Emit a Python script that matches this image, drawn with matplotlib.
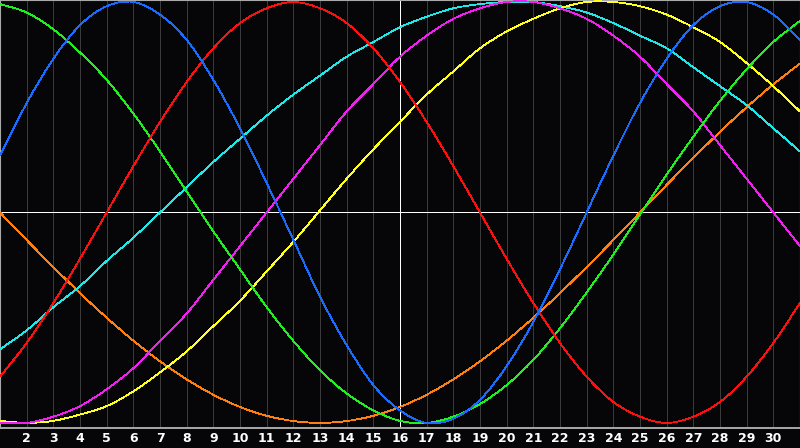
import matplotlib

matplotlib.use("Agg")

import matplotlib.pyplot as plt
from matplotlib.patches import PathPatch
from matplotlib.path import Path

BACKGROUND = "#060609"
GRID_COLOR = "#3a3a3a"
FRAME_COLOR = "#a8a8a8"
MARKER_DAY = 16

days = list(range(1, 32))
tick_days = list(range(2, 31))

physical = [0.27, 0.52, 0.73, 0.89, 0.98, 1.00, 0.94, 0.82, 0.63, 0.40, 0.14, -0.13, -0.40, -0.63, -0.82, -0.94,
            -1.00, -0.98, -0.89, -0.73, -0.52, -0.27, -0.00, 0.27, 0.52, 0.73, 0.89, 0.98, 1.00, 0.94, 0.82]
emotional = [-0.78, -0.62, -0.43, -0.22, 0.00, 0.22, 0.43, 0.62, 0.78, 0.90, 0.97, 1.00, 0.97, 0.90, 0.78, 0.62,
             0.43, 0.22, 0.00, -0.22, -0.43, -0.62, -0.78, -0.90, -0.97, -1.00, -0.97, -0.90, -0.78, -0.62, -0.43]
intellectual = [0.99, 0.95, 0.87, 0.76, 0.63, 0.47, 0.29, 0.10, -0.09, -0.27, -0.45, -0.61, -0.75, -0.86, -0.94, -0.99,
                -1.00, -0.97, -0.91, -0.82, -0.70, -0.55, -0.38, -0.20, -0.01, 0.18, 0.36, 0.53, 0.68, 0.81, 0.91]
intuitive = [-1.00, -1.00, -0.97, -0.92, -0.84, -0.74, -0.61, -0.48, -0.32, -0.16, 0.00, 0.16, 0.32, 0.48, 0.61, 0.74,
             0.84, 0.92, 0.97, 1.00, 1.00, 0.97, 0.92, 0.84, 0.74, 0.61, 0.48, 0.32, 0.16, 0.00, -0.16]
aesthetic = [-0.99, -1.00, -0.99, -0.96, -0.92, -0.85, -0.76, -0.66, -0.54, -0.42, -0.28, -0.14, 0.01, 0.16, 0.30, 0.43,
             0.56, 0.67, 0.78, 0.86, 0.92, 0.97, 1.00, 1.00, 0.98, 0.94, 0.88, 0.81, 0.71, 0.60, 0.48]
awareness = [0.000, -0.131, -0.259, -0.383, -0.500, -0.609, -0.707, -0.793, -0.866, -0.924, -0.966, -0.991, -1.000,
             -0.991, -0.966, -0.924, -0.866, -0.793, -0.707, -0.609, -0.500, -0.383, -0.259, -0.131, 0.000, 0.131,
             0.259, 0.383, 0.500, 0.609, 0.707]
spiritual = [-0.65, -0.56, -0.45, -0.35, -0.23, -0.12, 0.00, 0.12, 0.24, 0.35, 0.46, 0.56, 0.65, 0.74, 0.81, 0.88,
             0.93, 0.97, 0.99, 1.00, 1.00, 0.98, 0.95, 0.90, 0.84, 0.78, 0.69, 0.60, 0.51, 0.40, 0.29]

curves = [
    (awareness, "#ff8010"),
    (spiritual, "#20e8e8"),
    (aesthetic, "#ffff20"),
    (intuitive, "#f020f0"),
    (intellectual, "#20f020"),
    (emotional, "#ff1010"),
    (physical, "#1a6cff"),
]


def _smooth_path(xs, ys):
    # catmull-rom through the daily points, drawn as cubic beziers
    pts = list(zip(xs, ys))
    verts = [pts[0]]
    codes = [Path.MOVETO]
    for i in range(len(pts) - 1):
        p0 = pts[max(i - 1, 0)]
        p1 = pts[i]
        p2 = pts[i + 1]
        p3 = pts[min(i + 2, len(pts) - 1)]
        c1 = (p1[0] + (p2[0] - p0[0]) / 6, p1[1] + (p2[1] - p0[1]) / 6)
        c2 = (p2[0] - (p3[0] - p1[0]) / 6, p2[1] - (p3[1] - p1[1]) / 6)
        verts += [c1, c2, p2]
        codes += [Path.CURVE4] * 3
    return Path(verts, codes)


fig = plt.figure(figsize=(8, 4.48), dpi=100, facecolor=BACKGROUND)
ax = fig.add_axes([0, 20 / 448, 1, 428 / 448])
ax.set_facecolor(BACKGROUND)

for day in tick_days:
    ax.axvline(day, color=GRID_COLOR, lw=0.6, antialiased=False, zorder=1)
ax.axvline(MARKER_DAY, color="white", lw=0.7, antialiased=False, zorder=2)
ax.axhline(0, color="white", lw=0.7, antialiased=False, zorder=2)

for values, color in curves:
    patch = PathPatch(_smooth_path(days, values), facecolor="none", edgecolor=color,
                      lw=0.6, antialiased=False, zorder=3)
    ax.add_patch(patch)

ax.set_xlim(1, 31)
ax.set_ylim(-1.024, 1.0095)
ax.set_yticks([])
ax.set_xticks(tick_days, labels=[str(d) for d in tick_days])
ax.tick_params(axis="x", length=0, pad=3, colors="white", labelsize=9)
for label in ax.get_xticklabels():
    label.set_fontweight("bold")

for side, spine in ax.spines.items():
    spine.set_color(FRAME_COLOR)
    spine.set_linewidth(1.4 if side == "bottom" else 0.8)

fig.savefig("out.png", dpi=100, facecolor=BACKGROUND)
